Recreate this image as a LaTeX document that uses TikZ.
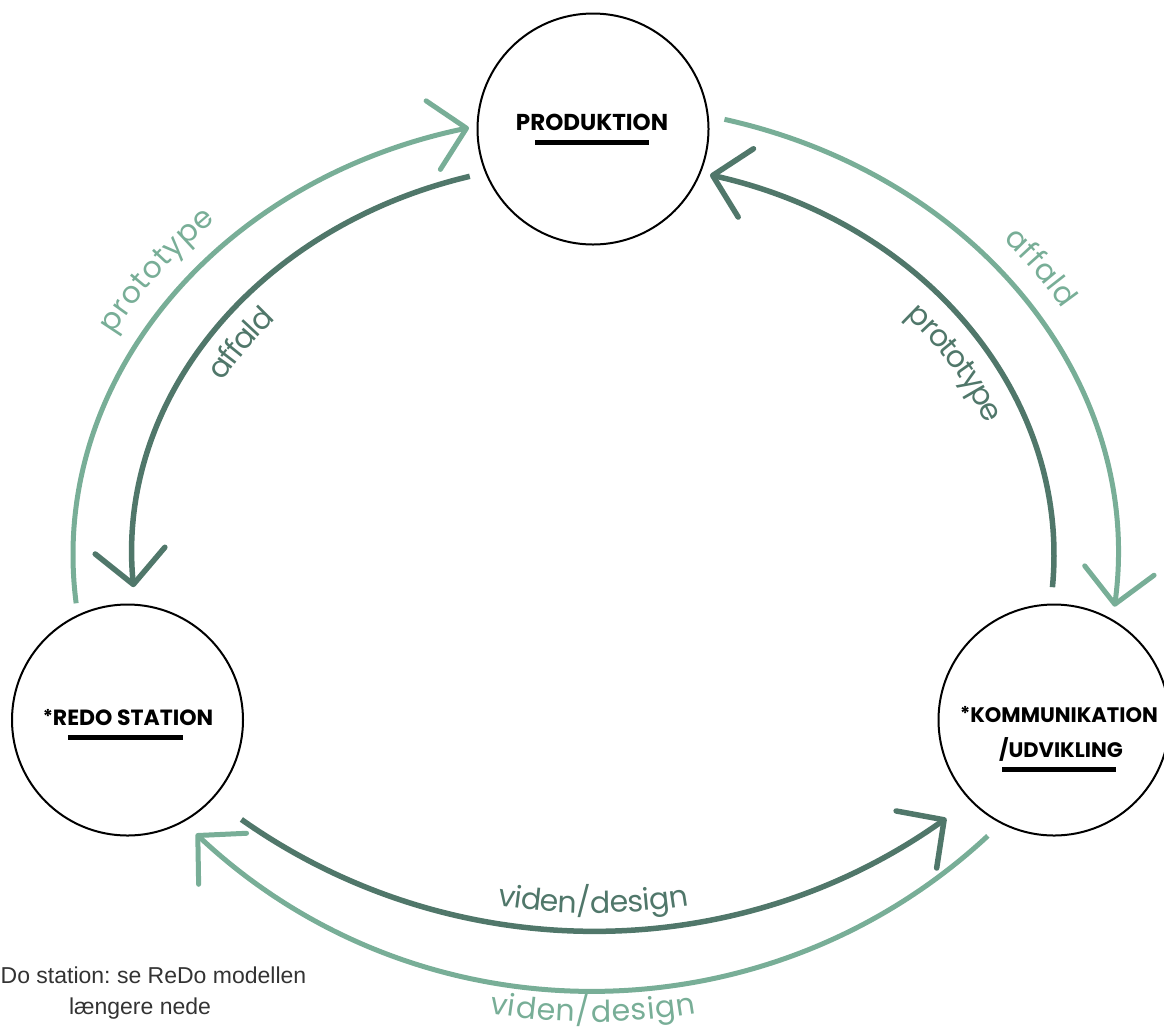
\documentclass[tikz,border=0pt]{standalone}
\usepackage{fontspec}
\setmainfont{Poppins}
\newfontfamily\notefont{Liberation Sans}
\usetikzlibrary{arrows.meta,decorations.text,calc}
\definecolor{lightg}{HTML}{78AE97}
\definecolor{darkg}{HTML}{50776A}
\definecolor{notegray}{HTML}{333333}
\newcommand{\arclabelfont}{\fontsize{30}{30}\selectfont}
\newcommand{\smallstar}{\raisebox{2pt}{\fontsize{19}{19}\selectfont *}}
\frenchspacing
\begin{document}
\begin{tikzpicture}[x=1pt,y=-1pt,
  station/.style={circle, draw=black, line width=2pt, minimum size=231pt, inner sep=0pt},
  title/.style={font=\fontsize{23}{23}\selectfont\bfseries, anchor=base, inner sep=0pt},
  ubar/.style={line width=5pt, draw=black},
  flowlight/.style={draw=lightg, line width=5pt, -{Straight Barb[length=34pt,width=70pt,round]}},
  flowdark/.style={draw=darkg, line width=5.5pt, -{Straight Barb[length=34pt,width=70pt,round]}},
  notetext/.style={font=\notefont\fontsize{23}{23}\selectfont, text=notegray, inner sep=0pt}
]
\useasboundingbox (0,0) rectangle (1164,1029);

% centres of the arcs
\coordinate (E) at (593,555);
\coordinate (Bd) at (593,321);
\coordinate (Bl) at (593,411);

% stations
\node[station] (prod) at (593,129) {};
\node[station] (redo) at (127.5,720) {};
\node[station] (komm) at (1054,720) {};

\node[title] (prodtxt) at (592,130) {PRODUKTION};
\draw[ubar] (535,142.5) -- (649,142.5);
\node[title, font=\fontsize{22}{22}\selectfont\bfseries] (redotxt) at (128,725) {\smallstar REDO STATION};
\draw[ubar] (68,737.5) -- (183,737.5);
\node[title, font=\fontsize{21}{21}\selectfont\bfseries] (kommtxt1) at (1059,722) {\smallstar KOMMUNIKATION};
\node[title, font=\fontsize{21}{21}\selectfont\bfseries] (kommtxt2) at (1061,757) {/UDVIKLING};
\draw[ubar] (1002,769.5) -- (1116,769.5);

% arc start points
\coordinate (lls) at ($(E)+(173.7:520 and 440)$);
\coordinate (dls) at ($(E)+(254.5:461 and 393)$);
\coordinate (lrs) at ($(E)+(284.5:525 and 450)$);
\coordinate (drs) at ($(E)+(4.7:461 and 393)$);
\coordinate (dbs) at ($(Bd)+(125.2:610)$);
\coordinate (lbs) at ($(Bl)+(47.1:580)$);

% connectors
\draw[flowlight] (lls) arc[start angle=173.7, end angle=256.2, x radius=520, y radius=440];
\draw[flowdark]  (dls) arc[start angle=254.5, end angle=175.3, x radius=461, y radius=393];
\draw[flowlight] (lrs) arc[start angle=284.5, end angle=366.6, x radius=525, y radius=450];
\draw[flowdark]  (drs) arc[start angle=4.7, end angle=-75.3, x radius=461, y radius=393];
\draw[flowdark]  (dbs) arc[start angle=125.2, end angle=54.6, radius=610];
\draw[flowlight] (lbs) arc[start angle=47.1, end angle=133.2, radius=580];

% label paths
\coordinate (t1) at ($(E)+(187:520 and 440)$);
\path[decorate, decoration={text along path, text align=center, raise=24pt,
  text={|\arclabelfont\color{lightg}|prototype}}]
  (t1) arc[start angle=187, end angle=245, x radius=520, y radius=440];

\coordinate (t2) at ($(E)+(190:461 and 393)$);
\path[decorate, decoration={text along path, text align=center, raise=-37pt,
  text={|\arclabelfont\color{darkg}|affald}}]
  (t2) arc[start angle=190, end angle=240, x radius=461, y radius=393];

\coordinate (t3) at ($(E)+(299.5:525 and 450)$);
\path[decorate, decoration={text along path, text align=center, raise=24pt,
  text={|\arclabelfont\color{lightg}|affald}}]
  (t3) arc[start angle=299.5, end angle=349.5, x radius=525, y radius=450];

\coordinate (t4) at ($(E)+(298.5:461 and 393)$);
\path[decorate, decoration={text along path, text align=center, raise=-38pt,
  text={|\arclabelfont\color{darkg}|prototype}}]
  (t4) arc[start angle=298.5, end angle=358.5, x radius=461, y radius=393];

\coordinate (t5) at ($(Bd)+(110:610)$);
\path[decorate, decoration={text along path, text align=center, raise=18pt,
  text={|\arclabelfont\color{darkg}|viden/design}}]
  (t5) arc[start angle=110, end angle=70, radius=610];

\coordinate (t6) at ($(Bl)+(112:580)$);
\path[decorate, decoration={text along path, text align=center, raise=-31pt,
  text={|\arclabelfont\color{lightg}|viden/design}}]
  (t6) arc[start angle=112, end angle=68, radius=580];

% note
\node[notetext, anchor=base west] (note1) at (0.5,983) {Do station: se ReDo modellen};
\node[notetext, anchor=base] (note2) at (140,1014) {længere nede};
\end{tikzpicture}
\end{document}
